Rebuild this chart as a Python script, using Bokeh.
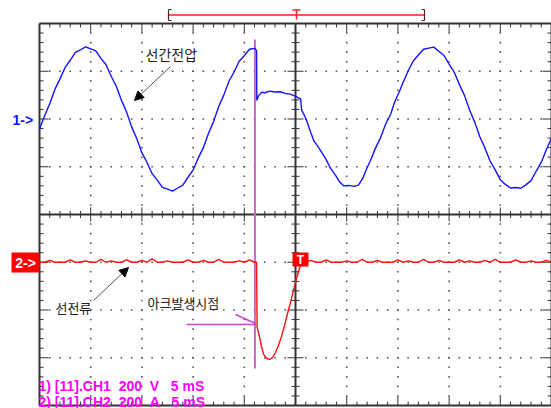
import numpy as np
from bokeh.plotting import figure
from bokeh.models import Range1d, Arrow, NormalHead
from bokeh.core.properties import value
from bokeh.embed import file_html
from bokeh.resources import INLINE

# ---------------- data (time in ms, trigger at 0) ----------------
volt_t = [-25.0, -24.5, -24.0, -23.5, -23.0, -22.5, -22.0, -21.5, -21.0, -20.5,
          -20.0, -19.5, -19.0, -18.5, -18.0, -17.5, -17.0, -16.5, -16.0, -15.5,
          -15.0, -14.5, -14.0, -13.5, -13.0, -12.5, -12.0, -11.5, -11.0, -10.5,
          -10.0, -9.5, -9.0, -8.5, -8.0, -7.5, -7.0, -6.5, -6.0, -5.5,
          -5.0, -4.5, -4.0, -3.8, -3.78, -3.6, -3.3, -3.0, -2.5, -2.0,
          -1.5, -1.0, -0.5, 0.0, 0.5, 0.6, 1.0, 1.5, 1.8, 2.2,
          2.65, 3.0, 3.4, 3.9, 4.3, 4.7, 5.2, 5.7, 6.15, 6.55,
          7.0, 7.3, 7.8, 8.3, 8.8, 9.3, 9.7, 10.1, 10.5, 11.0,
          11.5, 12.0, 12.5, 13.0, 13.5, 14.0, 14.5, 15.0, 15.5, 16.0,
          16.5, 17.0, 17.5, 18.0, 18.5, 19.0, 19.5, 20.0, 20.5, 21.0,
          21.5, 22.0, 22.5, 23.0, 23.5, 24.0, 24.5, 25.0]
volt_v = [-42, 14, 64, 124, 168, 216, 246, 279, 290, 302,
          294, 285, 254, 227, 179, 137, 79, 29, -33, -83,
          -141, -182, -229, -256, -286, -294, -302, -289, -277, -244,
          -214, -164, -120, -61, -11, 52, 100, 158, 197, 242,
          265, 292, 296, 287, 78, 98, 112, 110, 117, 113,
          114, 107, 104, 95, 84, 38, 3, -58, -92, -116,
          -146, -170, -205, -235, -263, -280, -278, -282, -277, -250,
          -203, -176, -123, -79, -22, 21, 73, 110, 153, 201,
          243, 268, 292, 297, 301, 284, 266, 230, 196, 145,
          99, 38, -13, -74, -121, -176, -213, -254, -274, -289,
          -287, -290, -276, -258, -219, -182, -128, -81]

curr_t = [-25.0, -24.5, -24.0, -23.5, -23.0, -22.5, -22.0, -21.5, -21.0, -20.5,
          -20.0, -19.5, -19.0, -18.5, -18.0, -17.5, -17.0, -16.5, -16.0, -15.5,
          -15.0, -14.5, -14.0, -13.5, -13.0, -12.5, -12.0, -11.5, -11.0, -10.5,
          -10.0, -9.5, -9.0, -8.5, -8.0, -7.5, -7.0, -6.5, -6.0, -5.5,
          -5.0, -4.5, -4.0, -3.8, -3.75, -3.5, -3.3, -3.1, -2.8, -2.5,
          -2.25, -1.95, -1.66, -1.37, -1.07, -0.78, -0.49, -0.2, 0.1, 0.39,
          0.6, 0.8, 1.0, 1.5, 2.0, 2.5, 3.0, 3.5, 4.0, 4.5,
          5.0, 5.5, 6.0, 6.5, 7.0, 7.5, 8.0, 8.5, 9.0, 9.5,
          10.0, 10.5, 11.0, 11.5, 12.0, 12.5, 13.0, 13.5, 14.0, 14.5,
          15.0, 15.5, 16.0, 16.5, 17.0, 17.5, 18.0, 18.5, 19.0, 19.5,
          20.0, 20.5, 21.0, 21.5, 22.0, 22.5, 23.0, 23.5, 24.0, 24.5, 25.0]
curr_a = [0, 0, 8, 0, 0, 0, 10, 0, 0, 5,
          0, 0, 12, 0, 6, 0, 0, 10, 0, 0,
          8, 0, 14, 0, 0, 6, 0, 0, 0, 10,
          0, 0, 8, 0, 0, 12, 0, 0, 0, 6,
          0, 10, 0, 0, -272, -315, -357, -387, -403, -407,
          -399, -378, -349, -311, -265, -215, -169, -118, -68, -26,
          -5, 0, 0, 8, 0, 0, 10, 0, 0, 0,
          6, 0, 0, 12, 0, 0, 8, 0, 0, 0,
          10, 0, 6, 0, 0, 12, 0, 0, 8, 0,
          0, 0, 10, 0, 6, 0, 0, 8, 0, 12,
          0, 0, 0, 10, 0, 0, 6, 0, 0, 8, 0]

ARC_MS = -3.96
CH1_OFFSET_DIV = 2
CH2_OFFSET_DIV = -1
V_PER_DIV = 200
A_PER_DIV = 200
MS_PER_DIV = 5
NB = "\u00a0"
footer_lines = ["1) [11].CH1" + NB * 2 + "200" + NB * 2 + "V" + NB * 3 + "5" + NB + "mS",
                "2) [11].CH2" + NB * 2 + "200" + NB * 2 + "A" + NB * 3 + "5" + NB + "mS"]
label_voltage = "선간전압"
label_current = "선전류"
label_arc = "아크발생시점"

# ---------------- geometry ----------------
W, H = 551, 408
FL, FR, FT, FB = 39, 551, 23, 405
T0, T1 = -25.0, 25.0
pxms = (FR - FL) / (T1 - T0)
pxdiv = (FB - FT) / 8.0
xr = Range1d(T0 - FL / pxms, T1 + (W - FR) / pxms)
yr = Range1d(-4 - (H - FB) / pxdiv, 4 + FT / pxdiv)


def X(px):
    return T0 + (px - FL) / pxms


def Y(py):
    return 4 - (py - FT) / pxdiv


DX = 1 / pxms
DY = 1 / pxdiv

p = figure(width=W, height=H, x_range=xr, y_range=yr,
           x_axis_type=None, y_axis_type=None,
           toolbar_location=None, output_backend="svg",
           min_border=0, min_border_left=0, min_border_right=0,
           min_border_top=0, min_border_bottom=0,
           outline_line_color=None,
           background_fill_color="white", border_fill_color="white")
p.extra_y_ranges = {
    "ch1": Range1d((yr.start - CH1_OFFSET_DIV) * V_PER_DIV, (yr.end - CH1_OFFSET_DIV) * V_PER_DIV),
    "ch2": Range1d((yr.start - CH2_OFFSET_DIV) * A_PER_DIV, (yr.end - CH2_OFFSET_DIV) * A_PER_DIV),
}

# ---------------- dotted graticule ----------------
gx, gy = [], []
for m in range(-4, 5):
    if m == 0:
        continue
    xv = m * MS_PER_DIV
    for k in range(-19, 20):
        gx.append(xv); gy.append(k * 0.2)
for d in range(-3, 4):
    if d == 0:
        continue
    for m in range(-24, 25):
        gx.append(m); gy.append(d)
p.scatter(gx, gy, marker="square", size=1.6, fill_color="#555555", line_color=None)

# ---------------- ticks ----------------
x0, y0, x1, y1 = [], [], [], []
for m in range(-24, 25):
    L = 9 if m % 5 == 0 else 4
    x0 += [m, m]; y0 += [4, -4]; x1 += [m, m]; y1 += [4 - L * DY, -4 + L * DY]
    C = 7 if m % 5 == 0 else 3.5
    x0.append(m); y0.append(-C * DY); x1.append(m); y1.append(C * DY)
for k in range(-19, 20):
    yv = k * 0.2
    L = 9 if k % 5 == 0 else 4
    x0 += [T0, T1]; y0 += [yv, yv]; x1 += [T0 + L * DX, T1 - L * DX]; y1 += [yv, yv]
    C = 8 if k % 5 == 0 else 4
    x0.append(-C * DX); y0.append(yv); x1.append(C * DX); y1.append(yv)
p.segment(x0, y0, x1, y1, line_color="#333333", line_width=1)

# frame and centre axes
p.segment([T0, T1, T0, T0, T0, 0], [-4, -4, 4, -4, 0, -4],
          [T0, T1, T1, T1, T1, 0], [4, 4, 4, -4, 0, 4],
          line_color="#333333", line_width=2)

# arc instant marker (behind traces)
p.segment([ARC_MS], [Y(39)], [ARC_MS], [Y(368)], line_color="#cc66cc", line_width=2)

# ---------------- traces ----------------
p.line(volt_t, volt_v, y_range_name="ch1", line_color="#1414ff", line_width=1.4)
p.line(curr_t, curr_a, y_range_name="ch2", line_color="#ff1010", line_width=1.4)

# ---------------- annotations ----------------
kfont = value("Noto Sans CJK KR")
p.text([X(145)], [Y(53)], text=[label_voltage], text_font=kfont, text_font_size="14px",
       text_color="#222222", text_baseline="middle", text_align="left")
p.text([X(55)], [Y(307)], text=[label_current], text_font=kfont, text_font_size="13px",
       text_color="#222222", text_baseline="middle", text_align="left")
p.text([X(147)], [Y(302)], text=[label_arc], text_font=kfont, text_font_size="13px",
       text_color="#222222", text_baseline="middle", text_align="left")

p.add_layout(Arrow(end=NormalHead(size=9, fill_color="black", line_color="black"),
                   x_start=X(170), y_start=Y(66), x_end=X(134), y_end=Y(100),
                   line_color="#555555", line_width=1))
p.add_layout(Arrow(end=NormalHead(size=9, fill_color="black", line_color="black"),
                   x_start=X(93), y_start=Y(300), x_end=X(128), y_end=Y(267),
                   line_color="#555555", line_width=1))

p.segment([X(186), X(235)], [Y(324), Y(314)], [X(255), X(255)], [Y(324), Y(323)],
          line_color="#cc44cc", line_width=1.5)

# channel markers
p.text([X(12)], [Y(119)], text=["1->"], text_font=value("Liberation Sans"),
       text_font_style="bold", text_font_size="14px", text_color="#1414ff",
       text_baseline="middle", text_align="left")
p.quad(left=[X(11)], right=[X(39)], top=[Y(252)], bottom=[Y(272)],
       fill_color="#ff0000", line_color=None)
p.text([X(25)], [Y(262)], text=["2->"], text_font=value("Liberation Sans"),
       text_font_style="bold", text_font_size="14px", text_color="white",
       text_baseline="middle", text_align="center")
p.quad(left=[X(292)], right=[X(308)], top=[Y(252)], bottom=[Y(266)],
       fill_color="#ff0000", line_color=None)
p.text([X(300)], [Y(259)], text=["T"], text_font=value("Liberation Sans"),
       text_font_style="bold", text_font_size="12px", text_color="white",
       text_baseline="middle", text_align="center")

# trigger/record bar above the screen
p.segment([X(168)], [Y(14.5)], [X(424)], [Y(14.5)], line_color="#ff5555", line_width=2)
p.segment([X(168), X(168), X(168), X(424), X(424), X(424)],
          [Y(9), Y(9), Y(20), Y(9), Y(9), Y(20)],
          [X(168), X(171), X(171), X(424), X(421), X(421)],
          [Y(20), Y(9), Y(20), Y(20), Y(9), Y(20)],
          line_color="#552222", line_width=1.2)
p.segment([X(292), X(296)], [Y(9.5), Y(9.5)], [X(300), X(296)], [Y(9.5), Y(19)],
          line_color="#ff2222", line_width=1.5)

# footer text
p.text([X(38), X(38)], [Y(385), Y(401)], text=footer_lines,
       text_font=value("Liberation Sans"), text_font_style="bold",
       text_font_size="14px", text_color="#ff00ff",
       text_baseline="middle", text_align="left")

open("out.html", "w").write(file_html(p, INLINE, title="scope"))
